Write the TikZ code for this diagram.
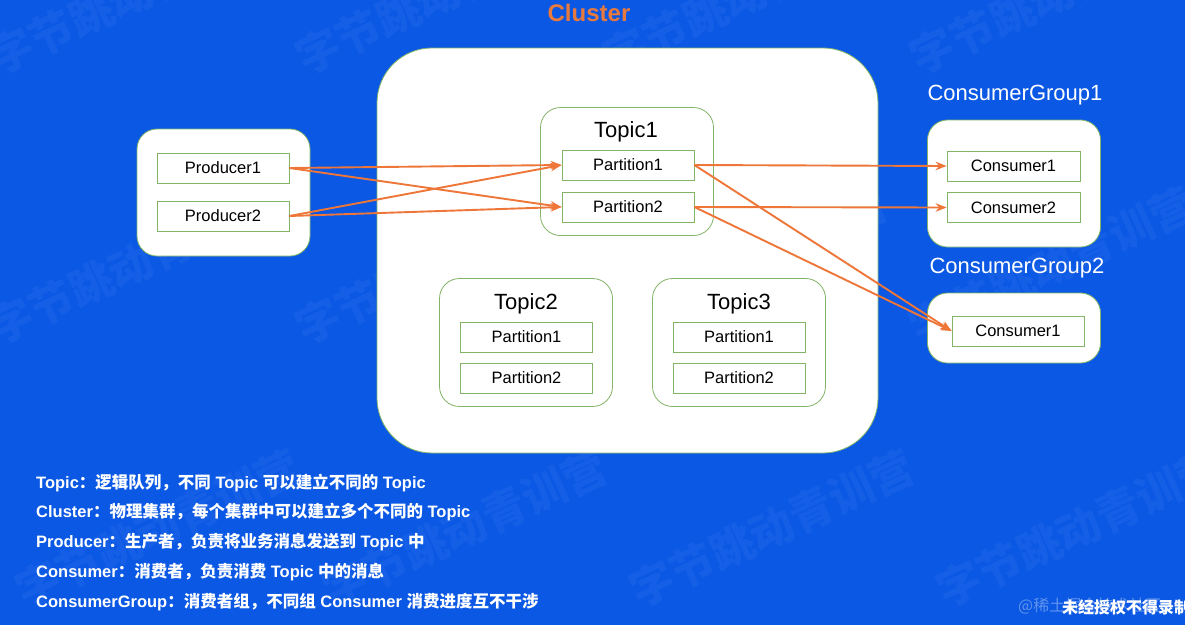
\documentclass[tikz,border=0pt]{standalone}
\usepackage{fontspec}
\setmainfont{Liberation Sans}
\newfontfamily\cjk{Noto Sans CJK SC}
\usetikzlibrary{arrows.meta}

\definecolor{bgblue}{RGB}{10,88,228}
\definecolor{arrorange}{RGB}{238,118,56}
\definecolor{titleorange}{RGB}{232,122,62}
\definecolor{boxgreen}{HTML}{82B366}

\newcommand{\zh}[1]{{\cjk #1}}

\tikzset{
    grp/.style={draw=boxgreen, line width=0.8pt, fill=white, rounded corners=20pt,
        minimum width=173pt, inner sep=0pt},
    topicbox/.style={draw=boxgreen, line width=0.8pt, fill=white, rounded corners=20pt,
        minimum width=173pt, minimum height=128pt, inner sep=0pt},
    part/.style={draw=boxgreen, line width=0.8pt, fill=white, minimum width=132pt,
        minimum height=30pt, inner sep=0pt, font=\fontsize{16.5}{19}\selectfont},
    title/.style={font=\fontsize{22}{26}\selectfont, inner sep=0pt},
    flow/.style={arrorange, line width=1.9pt, -{Stealth[length=11pt,width=8.5pt]}},
    note/.style={anchor=west, text=white, inner sep=0pt, font=\bfseries\fontsize{16.5}{19}\selectfont},
    wmark/.style={anchor=south west, rotate=25, text=white, opacity=0.045, inner sep=0pt,
        font=\cjk\bfseries\fontsize{44}{48}\selectfont}
}

\begin{document}
\begin{tikzpicture}[x=1pt, y=-1pt]
    \useasboundingbox (0,0) rectangle (1185,625);
    \fill[bgblue] (0,0) rectangle (1185,625);

    % watermarks
    \foreach \x in {0,307,614,921}
    {
    \node[wmark] at (\x,80) {字节跳动青训营};
    \node[wmark] at (\x,350) {字节跳动青训营};
    \node[wmark] at (\x+27,613) {字节跳动青训营};
    }

    % cluster
    \node[draw=boxgreen, line width=0.8pt, fill=white, rounded corners=55pt,
        minimum width=501pt, minimum height=405pt] (cluster) at (627.5,250.5) {};
    \node[text=titleorange, font=\bfseries\fontsize{24}{28}\selectfont, inner sep=0pt]
        (clustertitle) at (589,13) {Cluster};

    % producers
    \node[grp, minimum height=127pt] (prodgrp) at (223.5,192.5) {};
    \node[part] (prod1) at (223,168) {Producer1};
    \node[part] (prod2) at (223,216) {Producer2};

    % topics
    \node[topicbox] (topic1) at (627,171.5) {};
    \node[title] (topic1title) at (626,132) {Topic1};
    \node[part] (t1part1) at (628,165) {Partition1};
    \node[part] (t1part2) at (628,207) {Partition2};

    \node[topicbox] (topic2) at (526,342.5) {};
    \node[title] (topic2title) at (526,304) {Topic2};
    \node[part] (t2part1) at (526.5,337) {Partition1};
    \node[part] (t2part2) at (526.5,378) {Partition2};

    \node[topicbox] (topic3) at (739,342.5) {};
    \node[title] (topic3title) at (739,304) {Topic3};
    \node[part] (t3part1) at (739,337) {Partition1};
    \node[part] (t3part2) at (739,378) {Partition2};

    % consumer groups
    \node[title, text=white] (grp1title) at (1015,95) {ConsumerGroup1};
    \node[grp, minimum height=127pt] (cgrp1) at (1014,183.5) {};
    \node[part, minimum width=133pt] (g1cons1) at (1013.5,166) {Consumer1};
    \node[part, minimum width=133pt] (g1cons2) at (1013.5,207.5) {Consumer2};

    \node[title, text=white] (grp2title) at (1017,268) {ConsumerGroup2};
    \node[grp, minimum height=70pt] (cgrp2) at (1014,328) {};
    \node[part, minimum width=132pt] (g2cons1) at (1018,331) {Consumer1};

    % flows
    \foreach \p in {prod1,prod2}
    \foreach \t in {t1part1,t1part2}
    {
    \draw[flow] (\p.east) -- (\t.west);
    }
    \draw[flow] (t1part1.east) -- (g1cons1.west);
    \draw[flow] (t1part2.east) -- (g1cons2.west);
    \draw[flow] (t1part1.east) -- (g2cons1.west);
    \draw[flow] (t1part2.east) -- (g2cons1.west);

    % notes
    \node[note] (note1) at (36,483) {Topic\zh{：逻辑队列，不同} Topic \zh{可以建立不同的} Topic};
    \node[note] (note2) at (36,512) {Cluster\zh{：物理集群，每个集群中可以建立多个不同的} Topic};
    \node[note] (note3) at (36,542) {Producer\zh{：生产者，负责将业务消息发送到} Topic \zh{中}};
    \node[note] (note4) at (36,572) {Consumer\zh{：消费者，负责消费} Topic \zh{中的消息}};
    \node[note] (note5) at (36,602) {ConsumerGroup\zh{：消费者组，不同组} Consumer \zh{消费进度互不干涉}};

    % corner marks
    \node[anchor=west, text=white, opacity=0.35, inner sep=0pt, font=\cjk\fontsize{16}{19}\selectfont]
        (sitemark) at (1018,606) {@稀土掘金技术社区};
    \node[anchor=west, text=white, inner sep=0pt, font=\cjk\bfseries\fontsize{16}{19}\selectfont]
        (recmark) at (1062,607) {未经授权不得录制};
\end{tikzpicture}
\end{document}
